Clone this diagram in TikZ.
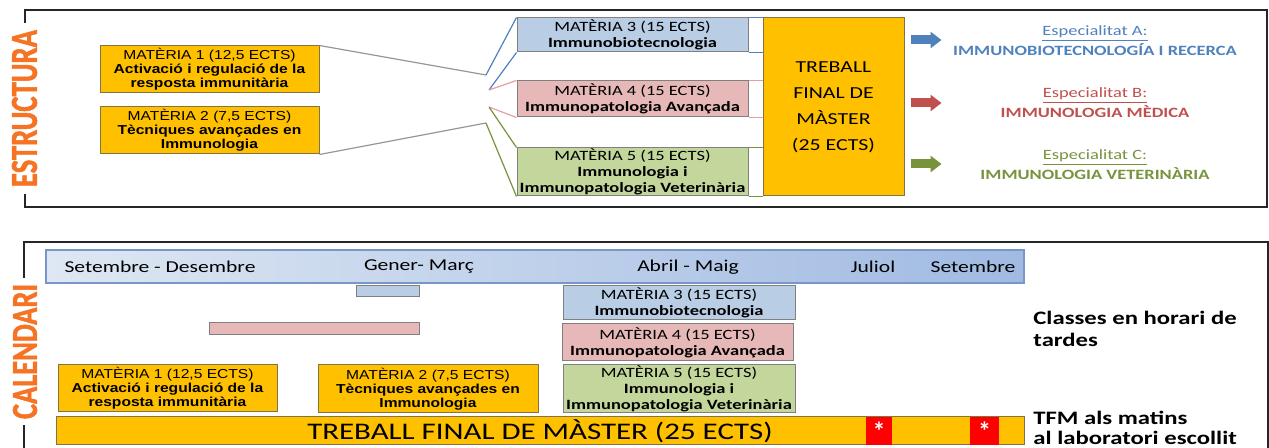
\documentclass[tikz,border=0pt]{standalone}
\usepackage{fontspec}
\usepackage{graphicx}
\usetikzlibrary{calc,arrows.meta}
\setmainfont{Liberation Sans}
\newfontfamily\arialf[FakeStretch=1.2]{Liberation Sans}
\newfontfamily\calf[FakeStretch=1.3]{Carlito}
\newfontfamily\calplain{Carlito}
\newfontfamily\heavyf[FakeBold=1.6]{Carlito}
\definecolor{matOrange}{RGB}{255,192,0}
\definecolor{oBorder}{RGB}{130,115,70}
\definecolor{pBorder}{RGB}{128,128,128}
\definecolor{mThree}{RGB}{185,205,229}
\definecolor{mFour}{RGB}{230,185,184}
\definecolor{mFive}{RGB}{195,214,155}
\definecolor{lBlue}{RGB}{79,129,189}
\definecolor{lPink}{RGB}{228,160,160}
\definecolor{lGreen}{RGB}{119,147,60}
\definecolor{lGray}{RGB}{150,150,150}
\definecolor{aRed}{RGB}{192,80,77}
\definecolor{labOrange}{RGB}{245,115,35}
\definecolor{barL}{RGB}{222,231,243}
\definecolor{barR}{RGB}{160,186,226}
\definecolor{barB}{RGB}{120,150,200}
\definecolor{sqRed}{RGB}{255,0,0}
\begin{document}
\begin{tikzpicture}[x=0.5pt,y=-0.5pt,
  frame/.style={draw=black!85,line width=0.8pt},
  matbox/.style={draw=pBorder,line width=0.5pt,inner sep=0pt,align=center},
  abox/.style={matbox,fill=matOrange,draw=oBorder,font=\arialf\fontsize{6.5}{6.9}\selectfont},
  cbox/.style={matbox,font=\calf\fontsize{7.1}{8}\selectfont},
  tfmbox/.style={matbox,fill=matOrange,draw=oBorder,font=\calf\fontsize{8.4}{13}\selectfont},
  sz/.style 2 args={minimum width=#1,minimum height=#2},
  conn/.style={line width=0.6pt},
  bigarrow/.style={line width=4.5pt,-{Triangle[length=5.5pt,width=8pt]}},
  spec/.style={align=center,inner sep=0pt},
  mon/.style={inner sep=0pt,font=\calf\fontsize{8.3}{10}\selectfont},
  sbar/.style={draw=pBorder,line width=0.5pt,inner sep=0pt},
  redsq/.style={fill=sqRed,inner sep=0pt,text=white,font=\calplain\bfseries\fontsize{13}{13}\selectfont},
  note/.style={anchor=west,align=left,inner sep=0pt,font=\calf\bfseries\fontsize{9.5}{11}\selectfont},
  vlabel/.style={rotate=90,fill=white,text=labOrange,font=\heavyf\bfseries}
]
\useasboundingbox (0,0) rectangle (1269,448);

% ---------- ESTRUCTURA panel ----------
\draw[frame] (25,10) rectangle (1267,207);
\node[vlabel,inner xsep=3.25pt,inner ysep=5.75pt] (est) at (24.5,108.5) {\resizebox{78.5pt}{12.5pt}{ESTRUCTURA}};

\node[abox,sz={109.5pt}{23.5pt}] (t1) at (209.5,69.5) {MATÈRIA 1 (12,5 ECTS)\\\textbf{Activació i regulació de la}\\\textbf{resposta immunitària}};
\node[abox,sz={109.5pt}{23.5pt}] (t2) at (209.5,130.5) {MATÈRIA 2 (7,5 ECTS)\\\textbf{Tècniques avançades en}\\\textbf{Immunologia}};
\node[cbox,fill=mThree,sz={115.5pt}{17pt}] (t3) at (632.5,35) {MATÈRIA 3 (15 ECTS)\\\textbf{Immunobiotecnologia}};
\node[cbox,fill=mFour,sz={115.5pt}{18pt}] (t4) at (632.5,99) {MATÈRIA 4 (15 ECTS)\\\textbf{Immunopatologia Avançada}};
\node[cbox,fill=mFive,sz={115.5pt}{24pt}] (t5) at (632.5,172) {MATÈRIA 5 (15 ECTS)\\\textbf{Immunologia i}\\\textbf{Immunopatologia Veterinària}};
\node[tfmbox,sz={70.5pt}{89pt}] (tfm) at (833.5,107) {TREBALL\\FINAL DE\\MÀSTER\\(25 ECTS)};

\coordinate (p1) at (486,75);
\coordinate (p2) at (489,90);
\coordinate (p3) at (489,107);
\coordinate (p4) at (486,123);
\draw[conn,lGray] (t1.north east) -- (p1);
\draw[conn,lGray] (t2.south east) -- (p4);
\draw[conn,lBlue] (p1) -- (t3.north west);
\draw[conn,lBlue] (p2) -- (t3.south west);
\draw[conn,lPink] (p2) -- (t4.north west);
\draw[conn,lPink] (p3) -- (t4.south west);
\draw[conn,lGreen] (p3) -- (t5.north west);
\draw[conn,lGreen] (p4) -- (t5.south west);
\draw[conn,lBlue] (t3.north east) -- (t3.north east -| tfm.west);
\draw[conn,lBlue] (t3.south east) -- (t3.south east -| tfm.west);
\draw[conn,lPink] (t4.north east) -- (t4.north east -| tfm.west);
\draw[conn,lPink] (t4.south east) -- (t4.south east -| tfm.west);
\draw[conn,lGreen] (t5.north east) -- (t5.north east -| tfm.west);
\draw[conn,lGreen] (t5.south east) -- (t5.south east -| tfm.west);

\node[spec,text=lBlue,font=\calf\fontsize{7.1}{8}\selectfont] (spA) at (1095,41) {\underline{Especialitat A:}\\\textbf{IMMUNOBIOTECNOLOGÍA I RECERCA}};
\node[spec,text=aRed,font=\calf\fontsize{7.1}{6.6}\selectfont] (spB) at (1095,102.5) {\underline{Especialitat B:}\\\textbf{IMMUNOLOGIA MÈDICA}};
\node[spec,text=lGreen,font=\calf\fontsize{7.1}{8}\selectfont] (spC) at (1095,165) {\underline{Especialitat C:}\\\textbf{IMMUNOLOGIA VETERINÀRIA}};
\draw[bigarrow,draw=lBlue] ($(tfm.east |- spA)+(6,-1)$) -- ++(31,0);
\draw[bigarrow,draw=aRed] ($(tfm.east |- spB)+(6,0.5)$) -- ++(31,0);
\draw[bigarrow,draw=lGreen] ($(tfm.east |- spC)+(6,-1)$) -- ++(31,0);

% ---------- CALENDARI panel ----------
\draw[frame] (24,448) -- (24,242) -- (1268,242) -- (1268,448);
\node[vlabel,inner xsep=3pt,inner ysep=6pt] (cal) at (25,351.5) {\resizebox{67.5pt}{12pt}{CALENDARI}};

\node[draw=barB,line width=0.6pt,left color=barL,right color=barR,inner sep=0pt,sz={489pt}{16.5pt}] (bar) at (535,266.5) {};
\node[mon] (mo1) at (160,267) {Setembre - Desembre};
\node[mon] (mo2) at (419,267) {Gener- Març};
\node[mon] (mo3) at (688,267) {Abril - Maig};
\node[mon] (mo4) at (873,267) {Juliol};
\node[mon] (mo5) at (973,267) {Setembre};

\node[sbar,fill=mThree,sz={31.5pt}{5.5pt}] (b3) at (387.5,291.5) {};
\node[sbar,fill=mFour,sz={105pt}{6pt}] (b4) at (314,329) {};

\node[abox,sz={109.5pt}{23.5pt}] (c1) at (167.5,388.5) {MATÈRIA 1 (12,5 ECTS)\\\textbf{Activació i regulació de la}\\\textbf{resposta immunitària}};
\node[abox,sz={110pt}{24pt}] (c2) at (428,389) {MATÈRIA 2 (7,5 ECTS)\\\textbf{Tècniques avançades en}\\\textbf{Immunologia}};
\node[cbox,fill=mThree,sz={116pt}{17pt}] (c3) at (679,303) {MATÈRIA 3 (15 ECTS)\\\textbf{Immunobiotecnologia}};
\node[cbox,fill=mFour,sz={115.5pt}{18.5pt}] (c4) at (677.5,342.5) {MATÈRIA 4 (15 ECTS)\\\textbf{Immunopatologia Avançada}};
\node[cbox,fill=mFive,sz={116pt}{24pt}] (c5) at (679,389) {MATÈRIA 5 (15 ECTS)\\\textbf{Immunologia i}\\\textbf{Immunopatologia Veterinària}};

\node[matbox,fill=matOrange,draw=oBorder,font=\calf\fontsize{11.9}{12}\selectfont,sz={484pt}{14pt}] (ctfm) at (540,431) {TREBALL FINAL DE MÀSTER (25 ECTS)};
\node[redsq,sz={13pt}{14pt}] (r1) at (879,431) {\raisebox{-0.25em}{*}};
\node[redsq,sz={14.5pt}{14pt}] (r2) at (984.5,431) {\raisebox{-0.25em}{*}};

\node[note] (n1) at (1033,329) {Classes en horari de\\tardes};
\node[note,font=\calf\bfseries\fontsize{9.5}{10}\selectfont] (n2) at (1033,428) {TFM als matins\\al laboratori escollit};
\end{tikzpicture}
\end{document}
